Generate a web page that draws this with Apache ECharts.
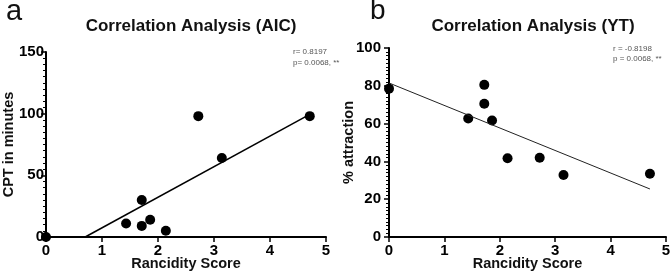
<!DOCTYPE html>
<html>
<head>
<meta charset="utf-8">
<script src="https://cdn.jsdelivr.net/npm/echarts@6/dist/echarts.min.js"></script>
<style>
  html, body { margin: 0; padding: 0; background: #fff; }
  #chart { width: 671px; height: 280px; }
</style>
</head>
<body>
<div id="chart"></div>
<script>
// panel a: AIC
const aicPoints = [[0, 0], [1.43, 11], [1.71, 9], [1.71, 30], [1.86, 14], [2.14, 5], [2.72, 98], [3.14, 64], [4.71, 98]];
const aicFit = [[0.70, 0], [4.71, 99.5]];
// panel b: YT
const ytPoints = [[0, 78.5], [1.43, 62.7], [1.72, 80.5], [1.72, 70.5], [1.86, 61.6], [2.14, 41.7], [2.72, 41.9], [3.15, 32.8], [4.71, 33.5]];
const ytFit = [[0, 81.5], [4.71, 25.4]];

const font = "Liberation Sans, Arial, sans-serif";

function xAxisOf(grid) {
  return {
    gridIndex: grid, type: "value", min: 0, max: 5, interval: 1,
    name: "Rancidity Score", nameLocation: "middle", nameGap: 19, nameMoveOverlap: false,
    nameTextStyle: { fontFamily: font, fontWeight: "bold", fontSize: 14.5, color: "#111" },
    axisLine: { lineStyle: { color: "#000", width: 2 } },
    axisTick: { length: 5, lineStyle: { color: "#000", width: 1.5 } },
    axisLabel: { fontFamily: font, fontWeight: "bold", fontSize: 15, color: "#000", margin: 6 },
    splitLine: { show: false }
  };
}
function yAxisOf(grid, max, interval, name, gap, margin) {
  return {
    gridIndex: grid, type: "value", min: 0, max: max, interval: interval,
    name: name, nameLocation: "middle", nameGap: gap, nameMoveOverlap: false,
    nameTextStyle: { fontFamily: font, fontWeight: "bold", fontSize: 14.5, color: "#111" },
    axisLine: { show: true, lineStyle: { color: "#000", width: 2 } },
    axisTick: { show: true, length: 5, lineStyle: { color: "#000", width: 1.5 } },
    minorTick: { show: true, splitNumber: 10, length: 3, lineStyle: { color: "#000", width: 1 } },
    axisLabel: { fontFamily: font, fontWeight: "bold", fontSize: 15, color: "#000", margin: margin },
    splitLine: { show: false }
  };
}

const chart = echarts.init(document.getElementById("chart"));
chart.setOption({
  animation: false,
  backgroundColor: "#fff",
  title: [
    { text: "a", left: 1, top: -8, textStyle: { fontFamily: font, fontWeight: "normal", fontSize: 29, color: "#111" } },
    { text: "Correlation Analysis (AIC)", left: 186, top: 13, textAlign: "center",
      textStyle: { fontFamily: font, fontWeight: "bold", fontSize: 17, color: "#111" } },
    { text: "b", left: 365, top: -8, textStyle: { fontFamily: font, fontWeight: "normal", fontSize: 28, color: "#111" } },
    { text: "Correlation Analysis (YT)", left: 528, top: 13, textAlign: "center",
      textStyle: { fontFamily: font, fontWeight: "bold", fontSize: 17, color: "#111" } },
    { text: "r= 0.8197\np= 0.0068, **", left: 288, top: 41,
      textStyle: { fontFamily: font, fontWeight: "normal", fontSize: 8, lineHeight: 11, color: "#555" } },
    { text: "r = -0.8198\np = 0.0068, **", left: 608, top: 39,
      textStyle: { fontFamily: font, fontWeight: "normal", fontSize: 8, lineHeight: 10, color: "#555" } }
  ],
  grid: [
    { left: 46, top: 52, width: 280, height: 185, outerBoundsMode: "none", containLabel: false },
    { left: 389, top: 48, width: 277, height: 189, outerBoundsMode: "none", containLabel: false }
  ],
  xAxis: [xAxisOf(0), xAxisOf(1)],
  yAxis: [
    yAxisOf(0, 150, 50, "CPT in minutes", 30, 2),
    yAxisOf(1, 100, 20, "% attraction", 33, 8)
  ],
  series: [
    { type: "line", xAxisIndex: 0, yAxisIndex: 0, data: aicFit, showSymbol: false,
      lineStyle: { color: "#000", width: 1.5 } },
    { type: "scatter", xAxisIndex: 0, yAxisIndex: 0, data: aicPoints, symbolSize: 10,
      itemStyle: { color: "#000", opacity: 1 }, clip: false },
    { type: "line", xAxisIndex: 1, yAxisIndex: 1, data: ytFit, showSymbol: false,
      lineStyle: { color: "#222", width: 1 } },
    { type: "scatter", xAxisIndex: 1, yAxisIndex: 1, data: ytPoints, symbolSize: 10,
      itemStyle: { color: "#000", opacity: 1 }, clip: false }
  ]
});
</script>
</body>
</html>
